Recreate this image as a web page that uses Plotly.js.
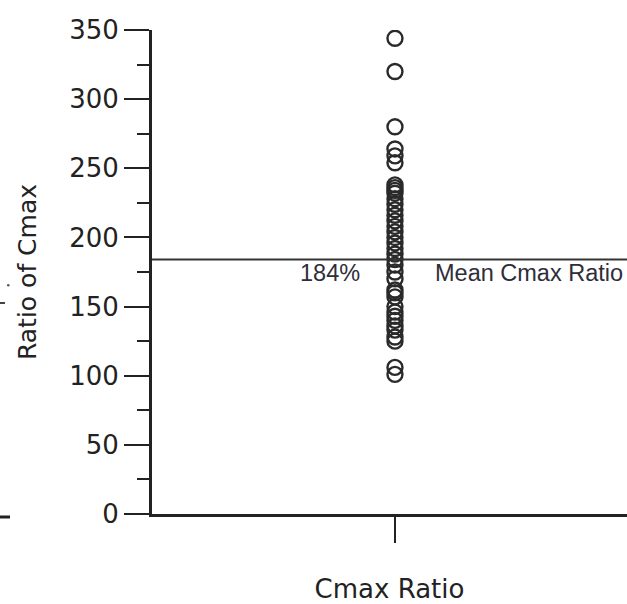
<!DOCTYPE html>
<html>
<head>
<meta charset="utf-8">
<script src="https://cdn.plot.ly/plotly-3.0.1.min.js"></script>
<style>html,body{margin:0;padding:0;background:#fff;}#chart{width:627px;height:604px;}</style>
</head>
<body>
<div id="chart"></div>
<script>
// Data
var category = 'Cmax Ratio';
var categoryPosition = [1];
var cmaxRatios = [344, 320, 280, 264, 259, 254, 238, 236, 234, 232, 228, 224, 220, 216,
  212, 208, 204, 200, 196, 192, 188, 184, 180, 175, 170, 162, 160, 157, 150, 146,
  143, 140, 136, 133, 128, 125, 106, 101];
var meanRatio = 184;
var meanLabel = '184%';
var meanText = 'Mean Cmax Ratio';
var yTitle = 'Ratio of Cmax';
var yTickVals = [0, 50, 100, 150, 200, 250, 300, 350];

var xs = cmaxRatios.map(function(){ return categoryPosition[0]; });

var trace = {
  type: 'scatter', mode: 'markers',
  x: xs, y: cmaxRatios,
  marker: {symbol: 'circle-open', size: 15, color: '#2a2a2a', line: {width: 2.4, color: '#2a2a2a'}},
  hoverinfo: 'y', showlegend: false
};

var W = 627, H = 604, L = 152, R = 0, T = 30, B = 90;
function px(x){ return (x - L) / (W - L - R); }
function py(y){ return (H - B - y) / (H - T - B); }

var layout = {
  width: W, height: H,
  margin: {l: L, r: R, t: T, b: B, pad: 0},
  paper_bgcolor: '#fff', plot_bgcolor: '#fff',
  showlegend: false,
  font: {family: 'DejaVu Sans, Verdana, sans-serif', color: '#222'},
  xaxis: {
    range: [0, 1.955], tickvals: categoryPosition, ticktext: [''],
    ticks: 'outside', ticklen: 26, tickwidth: 2, tickcolor: '#222',
    showline: true, linewidth: 3, linecolor: '#222',
    showgrid: false, zeroline: false, fixedrange: true,
    title: {text: category, font: {size: 26, color: '#222', family: 'DejaVu Sans'}, standoff: 38}
  },
  yaxis: {
    range: [0, 350], tickvals: yTickVals,
    ticks: 'outside', ticklen: 25, tickwidth: 2, tickcolor: '#222',
    ticklabelstandoff: 0,
    minor: {dtick: 25, ticks: 'outside', ticklen: 12, tickwidth: 2, tickcolor: '#222'},
    tickfont: {size: 26, color: '#222', family: 'DejaVu Sans'},
    showline: true, linewidth: 3, linecolor: '#222',
    showgrid: false, zeroline: false, fixedrange: true,
    title: {text: yTitle, font: {size: 25, color: '#222', family: 'DejaVu Sans'}, standoff: 26}
  },
  shapes: [
    {type: 'line', xref: 'paper', yref: 'y', x0: 0, x1: 1, y0: meanRatio, y1: meanRatio,
     line: {color: '#333', width: 2}},
    {type: 'line', xref: 'paper', yref: 'paper', x0: px(0), x1: px(10), y0: py(517), y1: py(517),
     line: {color: '#222', width: 3}},
    {type: 'line', xref: 'paper', yref: 'paper', x0: px(0), x1: px(5), y0: py(303), y1: py(303),
     line: {color: '#444', width: 2}},
    {type: 'circle', xref: 'paper', yref: 'paper', x0: px(7), x1: px(9.5), y0: py(286.5), y1: py(284),
     fillcolor: '#555', line: {width: 0}}
  ],
  annotations: [
    {xref: 'paper', yref: 'y', x: px(362), y: meanRatio, xanchor: 'right', yanchor: 'middle',
     yshift: -13, showarrow: false, text: meanLabel,
     font: {family: 'Liberation Sans, Arial, sans-serif', size: 23.5, color: '#2e2e3a'}},
    {xref: 'paper', yref: 'y', x: px(433), y: meanRatio, xanchor: 'left', yanchor: 'middle',
     yshift: -13, showarrow: false, text: meanText,
     font: {family: 'Liberation Sans, Arial, sans-serif', size: 23.5, color: '#2e2e3a'}}
  ]
};

Plotly.newPlot('chart', [trace], layout, {displayModeBar: false, staticPlot: true});
</script>
</body>
</html>
